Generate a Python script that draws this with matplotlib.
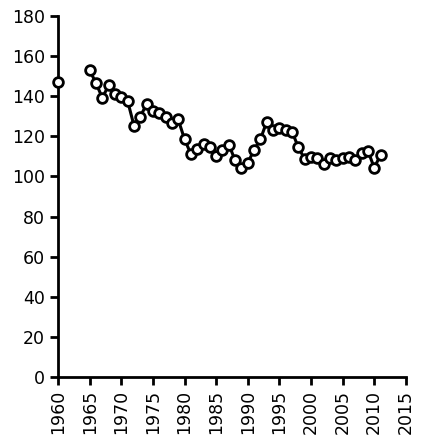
import matplotlib
matplotlib.use("Agg")
import matplotlib.pyplot as plt

# valors llegits del gràfic
years_first = [1960]
vals_first = [147]

years = list(range(1965, 2012))
vals = [153.0, 146.4, 139.2, 145.5, 141.0, 139.4, 137.6, 125.3, 129.8, 136.1,
        132.8, 131.4, 129.8, 126.5, 128.4, 118.5, 111.2, 113.8, 116.0, 114.5,
        110.2, 113.2, 115.9, 108.0, 104.4, 106.8, 113.2, 118.5, 127.3, 123.1,
        124.3, 123.1, 122.3, 114.5, 108.7, 109.8, 109.0, 106.2, 109.0, 108.2,
        109.3, 109.8, 108.2, 111.5, 112.8, 104.3, 110.7]

xticks = list(range(1960, 2016, 5))
yticks = list(range(0, 181, 20))

fig = plt.figure(figsize=(4.21, 4.44), dpi=100)
ax = fig.add_axes([0.138, 0.151, 0.826, 0.813])

mk = dict(marker="o", markersize=7, markerfacecolor="white",
          markeredgecolor="black", markeredgewidth=2, color="black",
          linewidth=2.2, clip_on=False, zorder=3)
ax.plot(years_first, vals_first, **mk)
ax.plot(years, vals, **mk)

ax.set_xlim(1960, 2015)
ax.set_ylim(0, 180)
ax.set_xticks(xticks)
ax.set_yticks(yticks)
ax.set_xticklabels([str(x) for x in xticks], rotation=90)

for s in ["top", "right"]:
    ax.spines[s].set_visible(False)
for s in ["left", "bottom"]:
    ax.spines[s].set_linewidth(2)
ax.tick_params(axis="both", width=2, length=6, labelsize=12.5, direction="out")

fig.savefig("out.png", dpi=100)
